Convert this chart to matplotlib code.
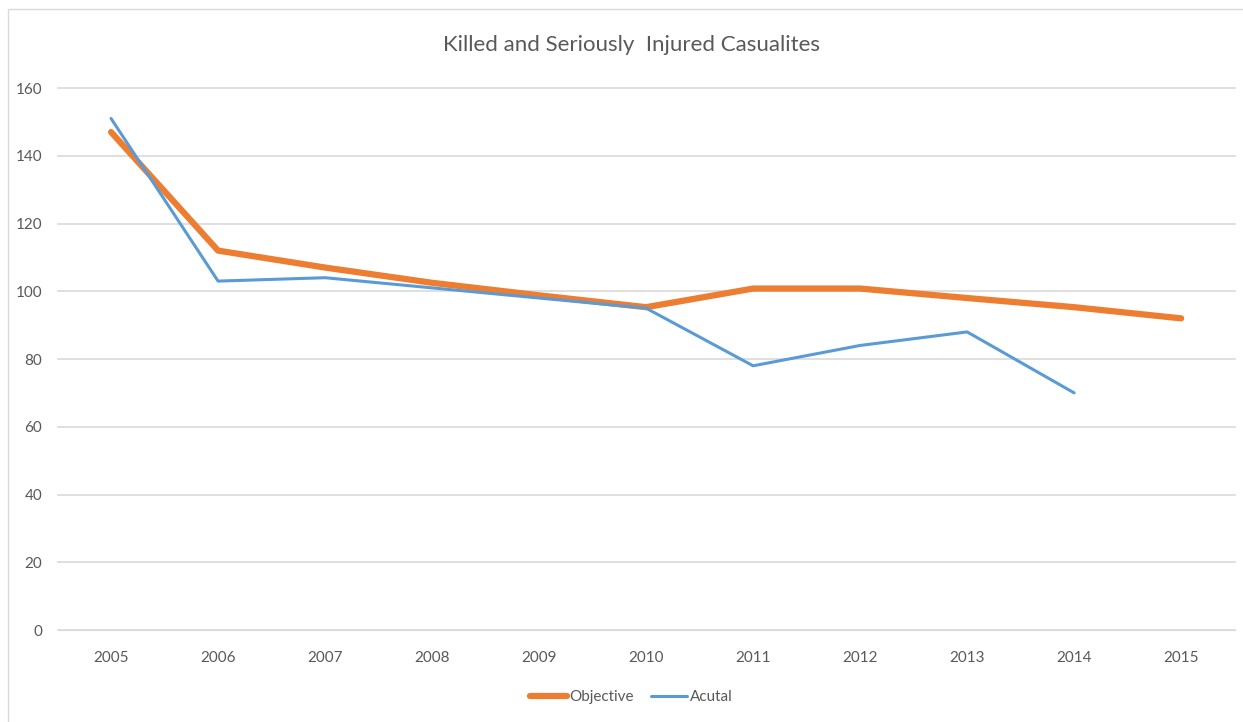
import matplotlib
matplotlib.use('Agg')
import matplotlib.pyplot as plt
from matplotlib.patches import Rectangle

years = ['2005', '2006', '2007', '2008', '2009', '2010',
         '2011', '2012', '2013', '2014', '2015']
objective = [147, 112, 107, 102.5, 98.8, 95.3, 100.8, 100.8, 98, 95.3, 92]
actual = [151, 103, 104, 101, 98, 95, 78, 84, 88, 70]

plt.rcParams['font.family'] = ['Lato', 'DejaVu Sans']
txt = '#595959'

fig = plt.figure(figsize=(12.43, 7.22), dpi=100)
ax = fig.add_axes([0.0463, 0.1274, 0.947, 0.7507])

# outer chart border
fig.patches.append(Rectangle((8 / 1243, -0.1), 1.2, (722 - 9) / 722 + 0.1,
                             transform=fig.transFigure, fill=False,
                             edgecolor='#D9D9D9', linewidth=1))

x_obj = range(len(objective))
x_act = range(len(actual))
ax.plot(x_obj, objective, color='#ED7D31', linewidth=4.5,
        solid_capstyle='round', label='Objective', zorder=3)
ax.plot(x_act, actual, color='#5B9BD5', linewidth=2.2,
        solid_capstyle='round', label='Acutal', zorder=4)

ax.set_xlim(-0.5, len(years) - 0.5)
ax.set_ylim(0, 160)
ax.set_yticks(range(0, 161, 20))
ax.set_xticks(range(len(years)))
ax.set_xticklabels(years)
ax.grid(axis='y', color='#D9D9D9', linewidth=1.2, clip_on=False)
for gl in ax.get_ygridlines():
    gl.set_clip_on(False)
ax.set_axisbelow(True)
for s in ax.spines.values():
    s.set_visible(False)
ax.spines['bottom'].set_visible(True)
ax.spines['bottom'].set_color('#D9D9D9')
ax.tick_params(length=0, labelsize=11, colors=txt, pad=15)
ax.tick_params(axis='y', pad=11)

fig.text(0.508, 0.937, 'Killed and Seriously  Injured Casualites',
         ha='center', va='center', fontsize=16, color=txt)

leg = fig.legend(loc='center', bbox_to_anchor=(0.508, 0.034), ncol=2,
                 frameon=False, fontsize=11, handlelength=2.4,
                 handletextpad=0.15, columnspacing=1.1)
for t in leg.get_texts():
    t.set_color(txt)

fig.savefig('out.png', dpi=100)
